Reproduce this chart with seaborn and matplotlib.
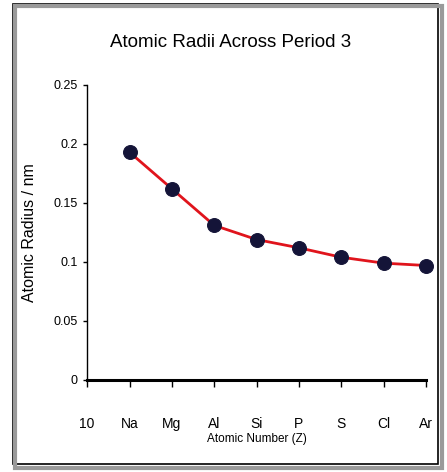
import matplotlib
matplotlib.use("Agg")
import matplotlib.pyplot as plt
from matplotlib.patches import Rectangle
import seaborn as sns

# data
atomic_number = [11, 12, 13, 14, 15, 16, 17, 18]
radius_nm = [0.193, 0.162, 0.131, 0.119, 0.112, 0.104, 0.099, 0.097]
tick_pos = [10, 11, 12, 13, 14, 15, 16, 17, 18]
tick_labels = ["10", "Na", "Mg", "Al", "Si", "P", "S", "Cl", "Ar"]
y_ticks = [0, 0.05, 0.1, 0.15, 0.2, 0.25]
y_tick_labels = ["0", "0.05", "0.1", "0.15", "0.2", "0.25"]

sns.set_style("white")
plt.rcParams["font.family"] = ["Liberation Sans", "DejaVu Sans"]
plt.rcParams["text.color"] = "black"
plt.rcParams["axes.labelcolor"] = "black"

fig = plt.figure(figsize=(4.47, 4.72), dpi=100)
ax = fig.add_axes([0.195, 0.195, 0.758, 0.625])

sns.lineplot(x=atomic_number, y=radius_nm, ax=ax, color="#e0141c", linewidth=2,
             marker="o", markersize=10, markerfacecolor="#141438",
             markeredgecolor="#141438", clip_on=False)

ax.set_xticks(tick_pos)
ax.set_xticklabels(tick_labels, fontsize=10)
ax.set_yticks(y_ticks)
ax.set_yticklabels(y_tick_labels, fontsize=9)
ax.set_xlim(10, 18)
ax.set_ylim(0, 0.25)

for s in ["top", "right"]:
    ax.spines[s].set_visible(False)
ax.spines["bottom"].set_linewidth(2.2)
ax.spines["left"].set_linewidth(1.0)
ax.spines["bottom"].set_color("black")
ax.spines["left"].set_color("black")

ax.tick_params(axis="x", bottom=True, direction="out", length=5, width=1, pad=22,
               colors="black")
ax.tick_params(axis="y", left=True, direction="out", length=3, width=1, pad=4,
               colors="black")

ax.set_xlabel("Atomic Number (Z)", fontsize=8.5, labelpad=1)
ax.set_ylabel("Atomic Radius / nm", fontsize=11.5, labelpad=12)
fig.text(0.515, 0.91, "Atomic Radii Across Period 3", ha="center", va="center",
         fontsize=13.5, color="black")

# outer frame with a gray shadow
fig.add_artist(Rectangle((0.033, 0.008), 0.955, 0.98, transform=fig.transFigure,
                         fill=False, edgecolor="#9a9a9a", linewidth=3))
fig.add_artist(Rectangle((0.028, 0.016), 0.952, 0.976, transform=fig.transFigure,
                         facecolor="white", edgecolor="black", linewidth=1.2, zorder=-1))

fig.savefig("out.png", dpi=100)
